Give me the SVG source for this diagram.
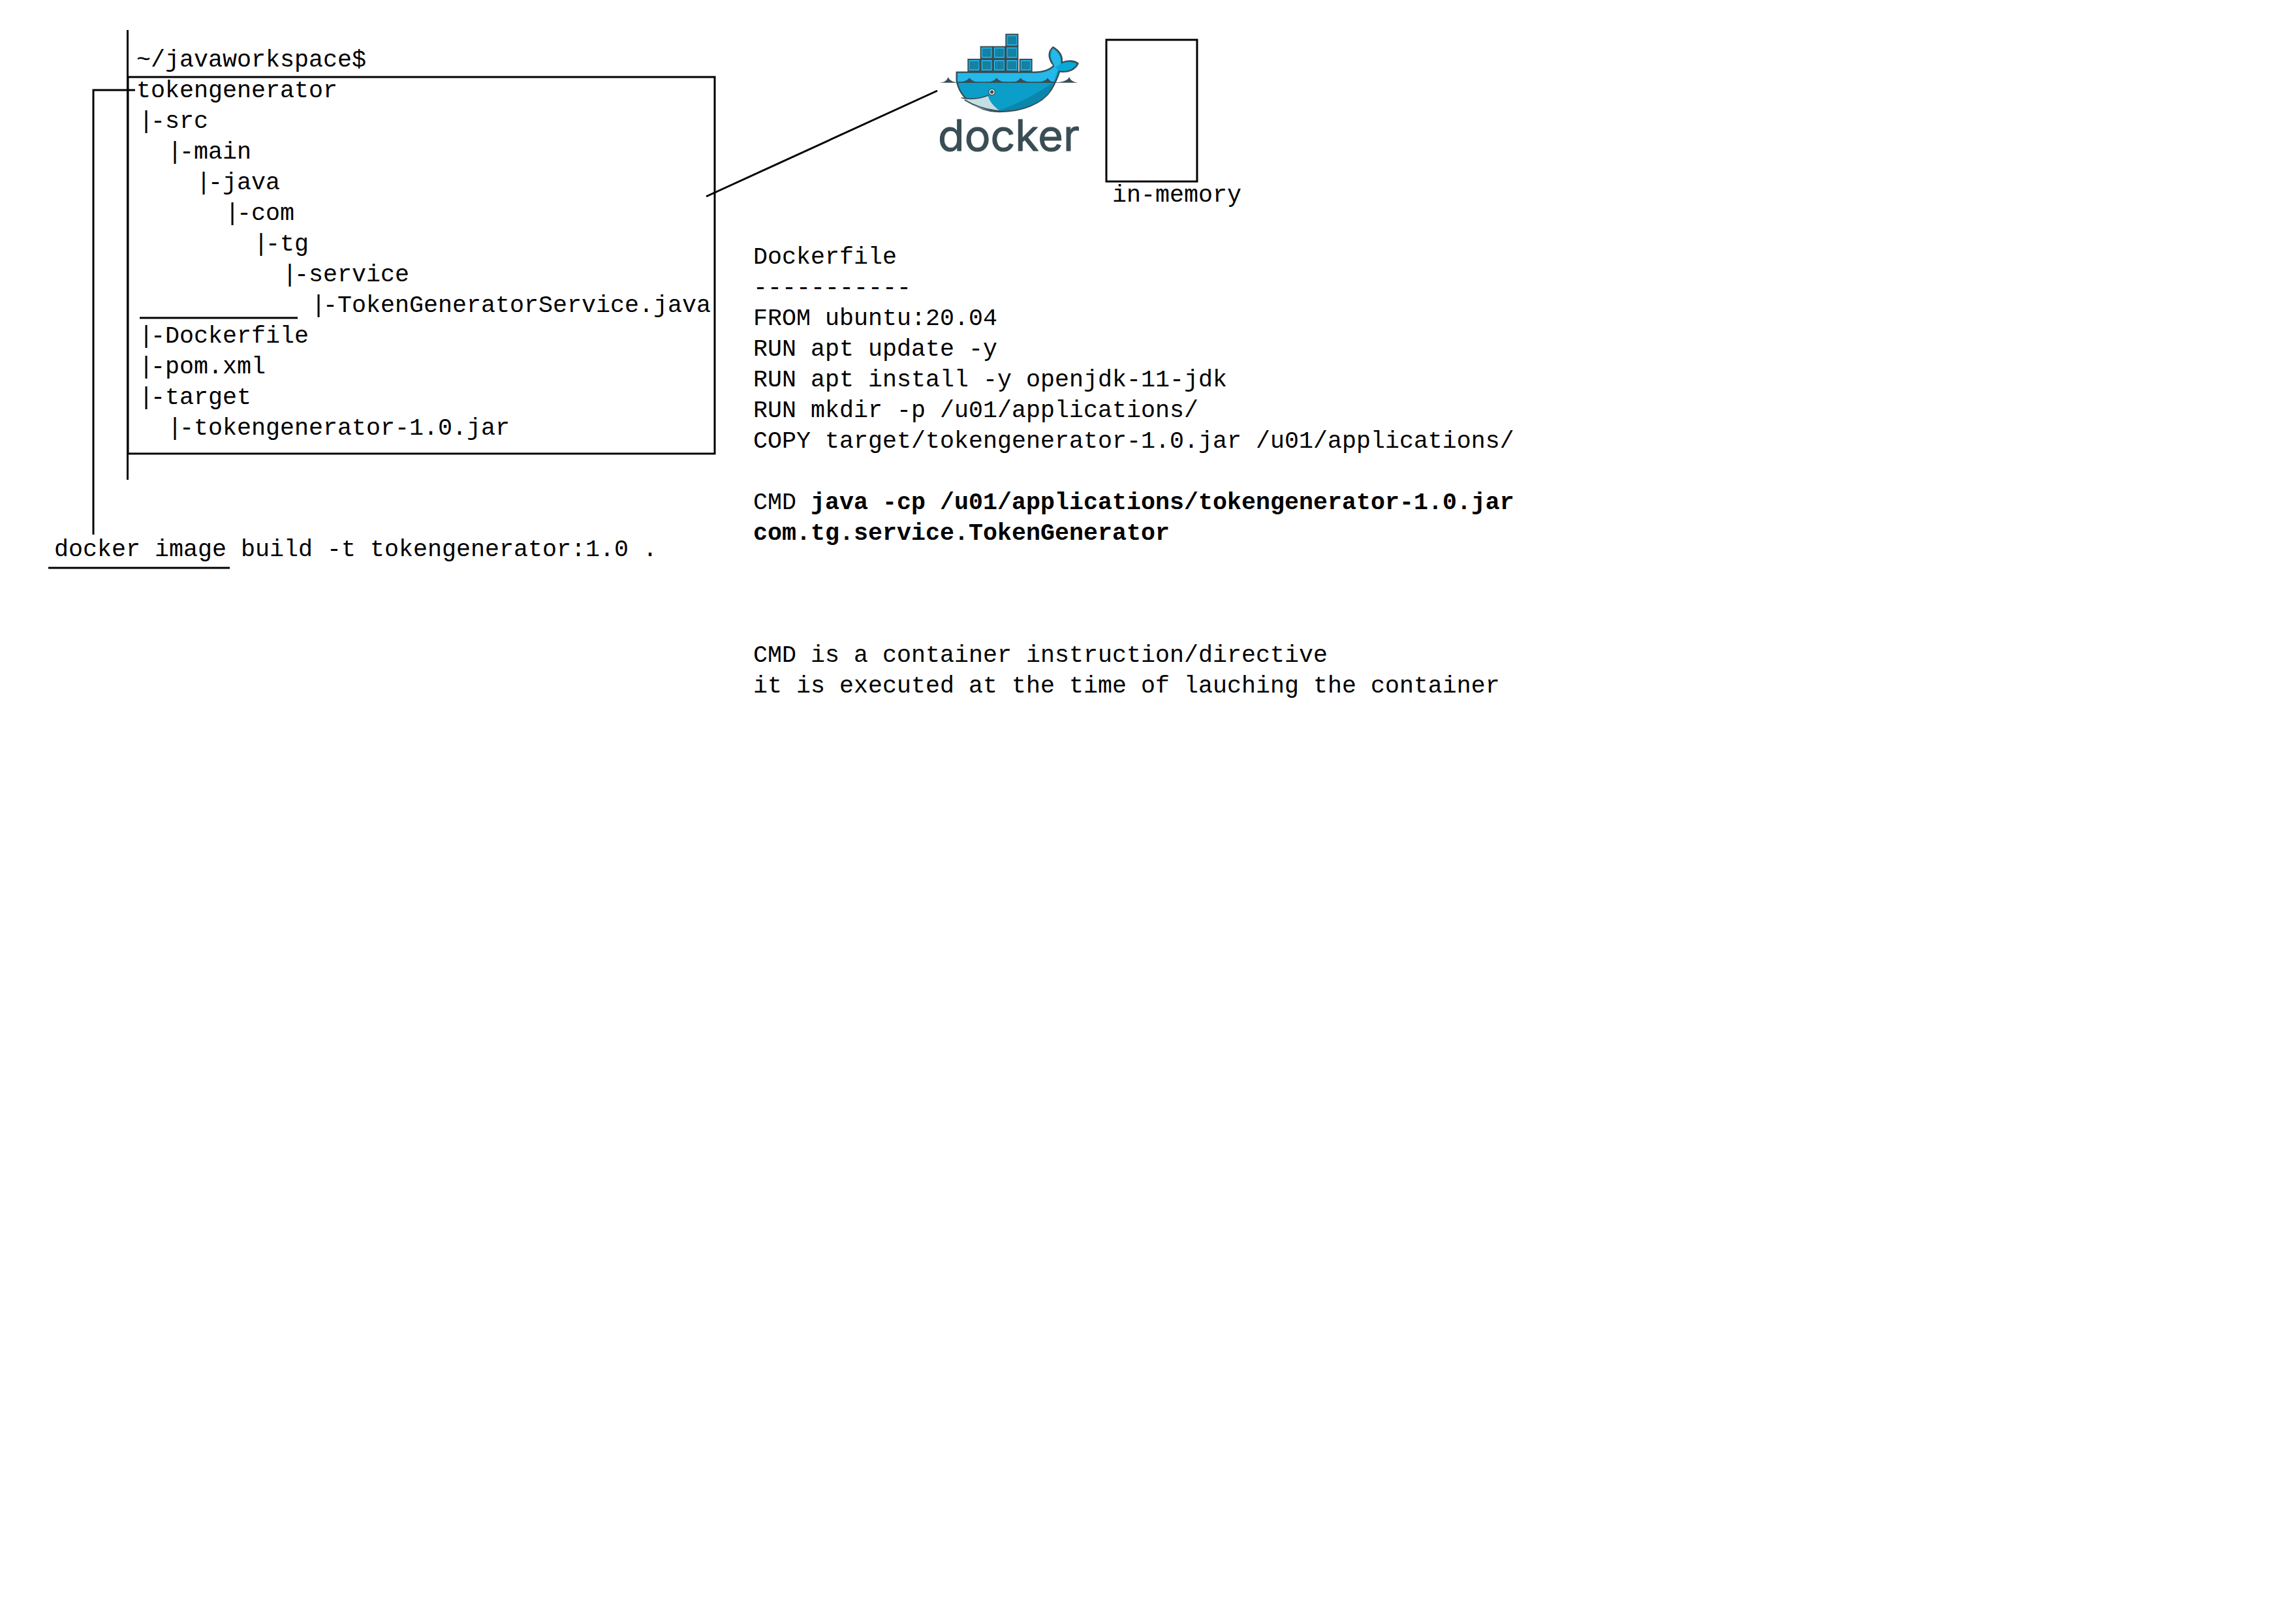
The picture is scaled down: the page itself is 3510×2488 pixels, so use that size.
<svg xmlns="http://www.w3.org/2000/svg" width="3510" height="2488" viewBox="0 0 3510 2488">
<style>
.t{font-family:"Liberation Mono",monospace;font-size:36.67px;fill:#000}
.b{font-weight:bold}
.l{fill:none;stroke:#000;stroke-width:3}
.d{fill:none;stroke:#394d54;stroke-linecap:round;stroke-linejoin:round}
</style>
<defs>
<pattern id="stripes" width="6" height="10" patternUnits="userSpaceOnUse"><rect width="6" height="10" fill="#1fa3c9"/><rect width="3" height="10" fill="#0b5f7c"/></pattern>
<g id="crate"><rect width="60" height="60" fill="#394d54"/><rect x="6" y="6" width="48" height="48" fill="#24b8eb"/><rect x="10" y="11" width="40" height="38" fill="url(#stripes)"/></g>
</defs>
<rect width="3510" height="2488" fill="#fff"/>
<g id="connectors">
<line class="l" x1="195.500" y1="46" x2="195.500" y2="735"/>
<polyline class="l" points="143,819 143,138 207,138"/>
<line class="l" x1="214" y1="487" x2="456" y2="487"/>
<line class="l" x1="74" y1="870" x2="352" y2="870"/>
<line class="l" x1="1082" y1="301" x2="1436" y2="139"/>
</g>
<g id="project-tree">
<rect class="l" x="196" y="118" width="899" height="577"/>
<text class="t" x="209" y="102">~/javaworkspace$</text>
<text class="t" x="209" y="149">tokengenerator</text>
<text class="t" x="213" y="196">|<tspan dx="-4">-src</tspan></text>
<text class="t" x="257" y="243">|<tspan dx="-4">-main</tspan></text>
<text class="t" x="301" y="290">|<tspan dx="-4">-java</tspan></text>
<text class="t" x="345" y="337">|<tspan dx="-4">-com</tspan></text>
<text class="t" x="389" y="384">|<tspan dx="-4">-tg</tspan></text>
<text class="t" x="433" y="431">|<tspan dx="-4">-service</tspan></text>
<text class="t" x="477" y="478">|<tspan dx="-4">-TokenGeneratorService.java</tspan></text>
<text class="t" x="213" y="525">|<tspan dx="-4">-Dockerfile</tspan></text>
<text class="t" x="213" y="572">|<tspan dx="-4">-pom.xml</tspan></text>
<text class="t" x="213" y="619">|<tspan dx="-4">-target</tspan></text>
<text class="t" x="257" y="666">|<tspan dx="-4">-tokengenerator-1.0.jar</tspan></text>
</g>
<g id="build-command">
<text class="t" x="83" y="852">docker image build -t tokengenerator:1.0 .</text>
</g>
<g id="docker-logo" transform="translate(1420 40) scale(.3333)">
<use href="#crate" x="187" y="150"/><use href="#crate" x="245" y="150"/><use href="#crate" x="303" y="150"/><use href="#crate" x="361" y="150"/><use href="#crate" x="425" y="150"/>
<use href="#crate" x="245" y="92"/><use href="#crate" x="303" y="92"/><use href="#crate" x="361" y="92"/>
<use href="#crate" x="361" y="35"/>
<path d="M137 212H500C540 212 565 200 585 182C565 160 550 125 580 97C610 115 625 140 620 168C650 155 680 160 695 172C680 200 650 215 610 208C600 240 590 262 570 295C530 355 440 393 335 393C230 393 150 330 137 250Z" fill="#0b9ec8" stroke="#394d54" stroke-width="7" stroke-linejoin="round"/>
<path d="M141 216H500C540 216 565 205 587 186C575 160 560 125 580 103C605 120 618 145 615 172L600 205C595 225 590 240 582 256H141Z" fill="#24b8eb"/>
<path d="M590 192C610 170 650 162 688 173C675 195 645 210 612 204Z" fill="#09a8d9"/>
<path d="M582 258C520 300 450 345 330 388C430 392 520 360 565 300Z" fill="#0a86ad"/>
<path d="M165 333C210 340 250 330 280 320C290 350 310 370 335 390C260 388 200 370 165 333Z" fill="#c5dde4"/>
<path d="M160 330C205 338 250 332 282 318M175 340C215 365 270 385 335 390" class="d" stroke-width="5"/>
<path d="M58 260C85 258 92 250 97 234C105 250 120 257 137 258C165 258 185 252 195 238C210 256 240 262 258 260C290 258 310 252 320 238C335 258 370 262 395 258C412 256 425 248 430 238C445 256 480 262 510 258C535 256 550 248 555 238C565 254 578 259 590 258C620 259 645 252 655 234C660 250 675 258 695 260Z" fill="#394d54"/>
<path d="M141 258H588" stroke="#394d54" stroke-width="5"/>
<circle cx="299" cy="303" r="14" fill="#fff" stroke="#394d54" stroke-width="4"/><circle cx="299" cy="303" r="8" fill="#394d54"/>
</g>
<g id="docker-wordmark">
<text x="1437" y="231" font-family="Inter, sans-serif" font-size="66" font-weight="400" fill="#394d54" stroke="#394d54" stroke-width="1" stroke-linejoin="round" textLength="217" lengthAdjust="spacingAndGlyphs">docker</text>
</g>
<g id="in-memory">
<rect class="l" x="1695" y="61" width="139" height="217"/>
<text class="t" x="1704" y="309">in-memory</text>
</g>
<g id="dockerfile-notes">
<text class="t" x="1154" y="404">Dockerfile</text>
<text class="t" x="1154" y="451">-----------</text>
<text class="t" x="1154" y="498">FROM ubuntu:20.04</text>
<text class="t" x="1154" y="545">RUN apt update -y</text>
<text class="t" x="1154" y="592">RUN apt install -y openjdk-11-jdk</text>
<text class="t" x="1154" y="639">RUN mkdir -p /u01/applications/</text>
<text class="t" x="1154" y="686">COPY target/tokengenerator-1.0.jar /u01/applications/</text>
<text class="t" x="1154" y="780">CMD <tspan class="b">java -cp /u01/applications/tokengenerator-1.0.jar</tspan></text>
<text class="t b" x="1154" y="827">com.tg.service.TokenGenerator</text>
<text class="t" x="1154" y="1014">CMD is a container instruction/directive</text>
<text class="t" x="1154" y="1061">it is executed at the time of lauching the container</text>
</g>
</svg>
